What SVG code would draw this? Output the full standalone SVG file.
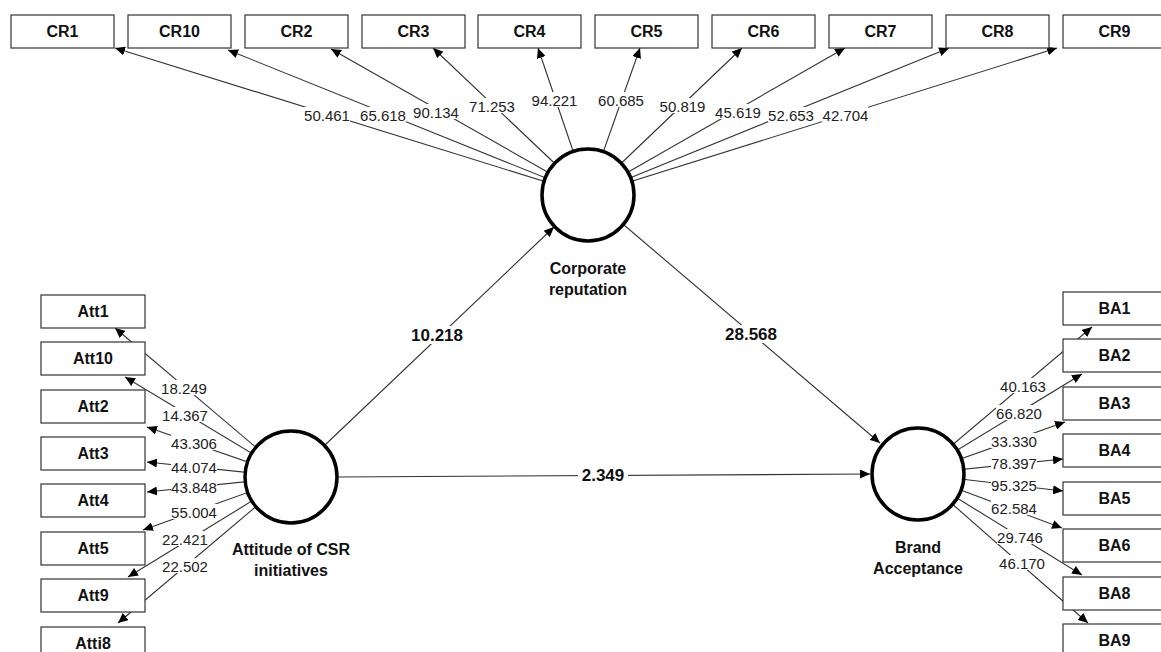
<svg xmlns="http://www.w3.org/2000/svg" width="1161" height="652" viewBox="0 0 1161 652">
<style>
.bx{fill:#fff;stroke:#333;stroke-width:1.2}
.bt{font-family:"Liberation Sans",Arial,sans-serif;font-weight:bold;font-size:16px;fill:#111;text-anchor:middle}
.lv{fill:#fff;stroke:#000;stroke-width:3.5}
.ln{stroke:#333;stroke-width:1.1;fill:none;marker-end:url(#ah)}
.nl{font-family:"Liberation Sans",Arial,sans-serif;font-size:15px;fill:#222;text-anchor:middle}
.pl{font-family:"Liberation Sans",Arial,sans-serif;font-weight:bold;font-size:17px;fill:#111;text-anchor:middle}
.bg{fill:#fff}
</style>
<defs>
<marker id="ah" markerUnits="userSpaceOnUse" markerWidth="11" markerHeight="9" refX="10" refY="4.5" orient="auto">
<path d="M0,0 L10,4.5 L0,9 z" fill="#000"/>
</marker>
</defs>
<rect width="1161" height="652" fill="#fff"/>
<g id="connectors">
<line class="ln" x1="588" y1="195" x2="115" y2="48"/>
<line class="ln" x1="588" y1="195" x2="228" y2="50"/>
<line class="ln" x1="588" y1="195" x2="331" y2="49"/>
<line class="ln" x1="588" y1="195" x2="433" y2="48"/>
<line class="ln" x1="588" y1="195" x2="538" y2="48"/>
<line class="ln" x1="588" y1="195" x2="640" y2="48"/>
<line class="ln" x1="588" y1="195" x2="742" y2="48"/>
<line class="ln" x1="588" y1="195" x2="845" y2="48"/>
<line class="ln" x1="588" y1="195" x2="949" y2="48"/>
<line class="ln" x1="588" y1="195" x2="1057" y2="48"/>
<line class="ln" x1="291" y1="477" x2="115" y2="328"/>
<line class="ln" x1="291" y1="477" x2="125" y2="377"/>
<line class="ln" x1="291" y1="477" x2="147" y2="427"/>
<line class="ln" x1="291" y1="477" x2="147" y2="462"/>
<line class="ln" x1="291" y1="477" x2="147" y2="492"/>
<line class="ln" x1="291" y1="477" x2="143" y2="530"/>
<line class="ln" x1="291" y1="477" x2="128" y2="577"/>
<line class="ln" x1="291" y1="477" x2="118" y2="623"/>
<line class="ln" x1="918" y1="474" x2="1092" y2="327"/>
<line class="ln" x1="918" y1="474" x2="1082" y2="374"/>
<line class="ln" x1="918" y1="474" x2="1065" y2="422"/>
<line class="ln" x1="918" y1="474" x2="1063" y2="459"/>
<line class="ln" x1="918" y1="474" x2="1063" y2="491"/>
<line class="ln" x1="918" y1="474" x2="1062" y2="528"/>
<line class="ln" x1="918" y1="474" x2="1082" y2="575"/>
<line class="ln" x1="918" y1="474" x2="1088" y2="623"/>
<line class="ln" x1="325" y1="445" x2="554" y2="227"/>
<line class="ln" x1="624" y1="225" x2="880" y2="443"/>
<line class="ln" x1="338" y1="477" x2="870" y2="474"/>
<g id="labels">
<rect class="bg" x="304" y="107" width="46" height="15"/><text class="nl" x="327" y="120.5">50.461</text>
<rect class="bg" x="360" y="107" width="46" height="15"/><text class="nl" x="383" y="120.5">65.618</text>
<rect class="bg" x="413" y="104" width="46" height="15"/><text class="nl" x="436" y="117.5">90.134</text>
<rect class="bg" x="469" y="98" width="46" height="15"/><text class="nl" x="492" y="111.5">71.253</text>
<rect class="bg" x="531" y="92" width="46" height="15"/><text class="nl" x="554.5" y="105.5">94.221</text>
<rect class="bg" x="598" y="92" width="46" height="15"/><text class="nl" x="621" y="105.5">60.685</text>
<rect class="bg" x="659" y="98" width="46" height="15"/><text class="nl" x="682.5" y="111.5">50.819</text>
<rect class="bg" x="715" y="104" width="46" height="15"/><text class="nl" x="738" y="117.5">45.619</text>
<rect class="bg" x="768" y="107" width="46" height="15"/><text class="nl" x="791" y="120.5">52.653</text>
<rect class="bg" x="822" y="107" width="46" height="15"/><text class="nl" x="845.5" y="120.5">42.704</text>
<rect class="bg" x="161" y="380" width="46" height="15"/><text class="nl" x="184" y="393.5">18.249</text>
<rect class="bg" x="162" y="407" width="46" height="15"/><text class="nl" x="185" y="420.5">14.367</text>
<rect class="bg" x="171" y="435" width="46" height="15"/><text class="nl" x="194" y="448.5">43.306</text>
<rect class="bg" x="171" y="459" width="46" height="15"/><text class="nl" x="194" y="472.5">44.074</text>
<rect class="bg" x="171" y="479" width="46" height="15"/><text class="nl" x="194" y="492.5">43.848</text>
<rect class="bg" x="171" y="504" width="46" height="15"/><text class="nl" x="194" y="517.5">55.004</text>
<rect class="bg" x="162" y="531" width="46" height="15"/><text class="nl" x="185" y="544.5">22.421</text>
<rect class="bg" x="162" y="558" width="46" height="15"/><text class="nl" x="185" y="571.5">22.502</text>
<rect class="bg" x="1000" y="378" width="46" height="15"/><text class="nl" x="1023" y="391.5">40.163</text>
<rect class="bg" x="996" y="405" width="46" height="15"/><text class="nl" x="1019" y="418.5">66.820</text>
<rect class="bg" x="991" y="433" width="46" height="15"/><text class="nl" x="1014" y="446.5">33.330</text>
<rect class="bg" x="991" y="455" width="46" height="15"/><text class="nl" x="1014" y="468.5">78.397</text>
<rect class="bg" x="991" y="477" width="46" height="15"/><text class="nl" x="1014" y="490.5">95.325</text>
<rect class="bg" x="991" y="500" width="46" height="15"/><text class="nl" x="1014" y="513.5">62.584</text>
<rect class="bg" x="997" y="529" width="46" height="15"/><text class="nl" x="1020" y="542.5">29.746</text>
<rect class="bg" x="999" y="555" width="46" height="15"/><text class="nl" x="1022" y="568.5">46.170</text>
<rect class="bg" x="408" y="326" width="58" height="18"/><text class="pl" x="437" y="341">10.218</text>
<rect class="bg" x="722" y="325" width="58" height="18"/><text class="pl" x="751" y="340">28.568</text>
<rect class="bg" x="578" y="466" width="50" height="18"/><text class="pl" x="603" y="481">2.349</text>
</g>
</g>
<g id="CR1"><rect class="bx" x="11" y="15" width="103" height="33"/><text class="bt" x="62.5" y="37">CR1</text></g>
<g id="CR10"><rect class="bx" x="128" y="15" width="103" height="33"/><text class="bt" x="179.5" y="37">CR10</text></g>
<g id="CR2"><rect class="bx" x="245" y="15" width="103" height="33"/><text class="bt" x="296.5" y="37">CR2</text></g>
<g id="CR3"><rect class="bx" x="362" y="15" width="103" height="33"/><text class="bt" x="413.5" y="37">CR3</text></g>
<g id="CR4"><rect class="bx" x="478" y="15" width="103" height="33"/><text class="bt" x="529.5" y="37">CR4</text></g>
<g id="CR5"><rect class="bx" x="595" y="15" width="103" height="33"/><text class="bt" x="646.5" y="37">CR5</text></g>
<g id="CR6"><rect class="bx" x="712" y="15" width="103" height="33"/><text class="bt" x="763.5" y="37">CR6</text></g>
<g id="CR7"><rect class="bx" x="829" y="15" width="103" height="33"/><text class="bt" x="880.5" y="37">CR7</text></g>
<g id="CR8"><rect class="bx" x="946" y="15" width="103" height="33"/><text class="bt" x="997.5" y="37">CR8</text></g>
<g id="CR9"><rect class="bx" x="1063" y="15" width="103" height="33"/><text class="bt" x="1114.5" y="37">CR9</text></g>
<g id="Att1"><rect class="bx" x="41" y="295" width="104" height="33"/><text class="bt" x="93" y="317">Att1</text></g>
<g id="Att10"><rect class="bx" x="41" y="342" width="104" height="33"/><text class="bt" x="93" y="364">Att10</text></g>
<g id="Att2"><rect class="bx" x="41" y="390" width="104" height="33"/><text class="bt" x="93" y="412">Att2</text></g>
<g id="Att3"><rect class="bx" x="41" y="437" width="104" height="33"/><text class="bt" x="93" y="459">Att3</text></g>
<g id="Att4"><rect class="bx" x="41" y="484" width="104" height="33"/><text class="bt" x="93" y="506">Att4</text></g>
<g id="Att5"><rect class="bx" x="41" y="532" width="104" height="33"/><text class="bt" x="93" y="554">Att5</text></g>
<g id="Att9"><rect class="bx" x="41" y="579" width="104" height="33"/><text class="bt" x="93" y="601">Att9</text></g>
<g id="Atti8"><rect class="bx" x="41" y="627" width="104" height="33"/><text class="bt" x="93" y="649">Atti8</text></g>
<g id="BA1"><rect class="bx" x="1063" y="292" width="103" height="33"/><text class="bt" x="1114.5" y="314">BA1</text></g>
<g id="BA2"><rect class="bx" x="1063" y="339" width="103" height="33"/><text class="bt" x="1114.5" y="361">BA2</text></g>
<g id="BA3"><rect class="bx" x="1063" y="387" width="103" height="33"/><text class="bt" x="1114.5" y="409">BA3</text></g>
<g id="BA4"><rect class="bx" x="1063" y="434" width="103" height="33"/><text class="bt" x="1114.5" y="456">BA4</text></g>
<g id="BA5"><rect class="bx" x="1063" y="482" width="103" height="33"/><text class="bt" x="1114.5" y="504">BA5</text></g>
<g id="BA6"><rect class="bx" x="1063" y="529" width="103" height="33"/><text class="bt" x="1114.5" y="551">BA6</text></g>
<g id="BA8"><rect class="bx" x="1063" y="577" width="103" height="33"/><text class="bt" x="1114.5" y="599">BA8</text></g>
<g id="BA9"><rect class="bx" x="1063" y="624" width="103" height="33"/><text class="bt" x="1114.5" y="646">BA9</text></g>
<g id="CorporateReputation"><circle class="lv" cx="588" cy="195" r="46"/><text class="bt" x="588" y="274">Corporate</text><text class="bt" x="588" y="295">reputation</text></g>
<g id="AttitudeCSR"><circle class="lv" cx="291" cy="477" r="46"/><text class="bt" x="291" y="555">Attitude of CSR</text><text class="bt" x="291" y="576">initiatives</text></g>
<g id="BrandAcceptance"><circle class="lv" cx="918" cy="474" r="46"/><text class="bt" x="918" y="553">Brand</text><text class="bt" x="918" y="574">Acceptance</text></g>
</svg>
